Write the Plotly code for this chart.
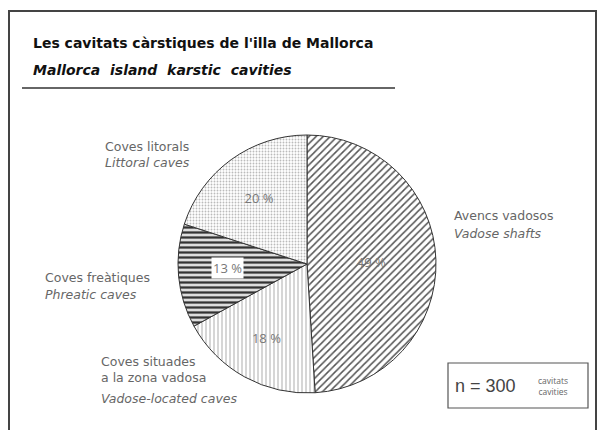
import plotly.graph_objects as go

# Data
categories_ca = ["Avencs vadosos", "Coves situades<br>a la zona vadosa", "Coves freàtiques", "Coves litorals"]
categories_en = ["Vadose shafts", "Vadose-located caves", "Phreatic caves", "Littoral caves"]
percentages = [49, 18, 13, 20]
n_total = 300

W, H = 598, 430
LBL_FONT = "DejaVu Sans"

fig = go.Figure()
fig.add_trace(go.Pie(
    labels=categories_en,
    values=percentages,
    sort=False,
    direction="clockwise",
    rotation=0,
    texttemplate=["%{value} %", "%{value} %", "", "%{value} %"],
    textposition="inside",
    insidetextorientation="horizontal",
    textfont=dict(family="Open Sans", size=13, color="#777"),
    marker=dict(
        colors=["white", "white", "white", "white"],
        line=dict(color="#333", width=1),
        pattern=dict(
            shape=["/", "|", "-", "."],
            fgcolor=["#555", "#bbb", "#333", "#bbb"],
            bgcolor=["white", "white", "#ddd", "white"],
            size=[5, 4, 5, 3],
            solidity=[0.3, 0.3, 0.45, 0.3],
        ),
    ),
    domain=dict(x=[(307 - 129) / W, (307 + 129) / W], y=[1 - 393 / H, 1 - 135 / H]),
    showlegend=False,
    hoverinfo="label+percent",
))

ann = []
def txt(x, y, t, size=12.5, color="#666", italic=False, xanchor="left", family=LBL_FONT, bg=None):
    d = dict(x=x / W, y=1 - y / H, xref="paper", yref="paper", text=t,
             showarrow=False, xanchor=xanchor, yanchor="middle", align="left",
             font=dict(family=family, size=size, color=color,
                       style="italic" if italic else "normal"))
    if bg:
        d["bgcolor"] = bg
    ann.append(d)

# Titles
ann.append(dict(x=31 / W, y=1 - 43 / H, xref="paper", yref="paper",
                text="<b>Les cavitats càrstiques de l'illa de Mallorca</b>", showarrow=False,
                xanchor="left", yanchor="middle",
                font=dict(family="DejaVu Sans", size=14, color="#111")))
ann.append(dict(x=31 / W, y=1 - 70 / H, xref="paper", yref="paper",
                text="<b><i>Mallorca  island  karstic  cavities</i></b>", showarrow=False,
                xanchor="left", yanchor="middle",
                font=dict(family="DejaVu Sans", size=14, color="#111")))

# Percentage label for the narrow phreatic slice (white background)
txt(227, 268, f"{percentages[2]} %", size=13, color="#777", xanchor="center",
    family="Open Sans", bg="white")

# Category labels
txt(103, 146, categories_ca[3])
txt(103, 163, categories_en[3], italic=True)
txt(43, 277, categories_ca[2])
txt(43, 294, categories_en[2], italic=True)
txt(99, 369, categories_ca[1])
txt(99, 398, categories_en[1], italic=True)
txt(452, 215, categories_ca[0])
txt(452, 233, categories_en[0], italic=True)

# n box text
txt(453, 386, f"n = {n_total}", size=18, color="#444", family="Liberation Sans")
ann.append(dict(x=553 / W, y=1 - 386 / H, xref="paper", yref="paper",
                text="cavitats<br>cavities", showarrow=False, xanchor="center", yanchor="middle",
                font=dict(family="Open Sans", size=8.5, color="#666")))

shapes = [
    dict(type="rect", xref="paper", yref="paper", x0=9 / W, x1=596 / W, y0=-0.02, y1=1 - 11 / H,
         line=dict(color="#444", width=2)),
    dict(type="line", xref="paper", yref="paper", x0=22 / W, x1=395 / W, y0=1 - 88 / H, y1=1 - 88 / H,
         line=dict(color="#333", width=1.5)),
    dict(type="rect", xref="paper", yref="paper", x0=448 / W, x1=588 / W, y0=1 - 408 / H, y1=1 - 363 / H,
         line=dict(color="#555", width=1.2)),
]

fig.update_layout(
    width=W, height=H,
    margin=dict(l=0, r=0, t=0, b=0),
    paper_bgcolor="white", plot_bgcolor="white",
    annotations=ann, shapes=shapes,
)

fig.write_html("out.html", config={"displayModeBar": False},
               post_script="document.body.style.margin='0';document.body.style.overflow='hidden';")
